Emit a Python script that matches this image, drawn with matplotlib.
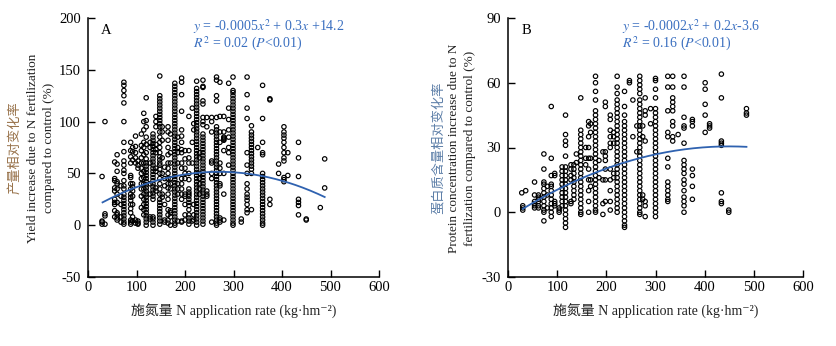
import matplotlib
matplotlib.use("Agg")
import matplotlib.pyplot as plt
import numpy as np

plt.rcParams['font.family'] = ['Liberation Serif', 'Noto Sans CJK SC', 'DejaVu Serif']
plt.rcParams['mathtext.fontset'] = 'stix'
plt.rcParams['axes.unicode_minus'] = False

# ---------------- data: panel A (yield) ----------------
a_x = [29, 35, 55, 60, 68, 74, 88, 92, 98, 103, 110, 115, 120, 128, 134, 140, 148, 153, 158,
       165, 170, 179, 185, 193, 200, 208, 215, 218, 224, 230, 237, 245, 255, 265, 272, 280,
       290, 299, 316, 328, 337, 350, 360, 375, 393, 404, 412, 434, 450, 479, 488]
a_y = [
    [47, 4, 3, 1],
    [100, 11, 9, 1],
    [61, 45, 43, 36, 33, 25, 22, 20, 14, 8],
    [68, 59, 52, 42, 40, 35, 30, 22, 12, 10, 7, 5],
    [38, 28, 20, 8, 3],
    [138, 135, 130, 125, 118, 100, 80, 71, 62, 58, 53, 50, 43, 38, 35, 30, 27, 24, 21, 18, 15, 12, 9, 6, 3, 1],
    [80, 72, 66, 60, 48, 46, 40, 35, 30, 27, 24, 20, 16, 12, 5, 3, 1],
    [75, 71, 63, 40, 37, 33, 28, 20, 8, 4],
    [86, 76, 70, 65, 60, 5, 2],
    [62, 58, 55, 4, 2, 1],
    [88, 77, 72, 65, 60, 55, 50, 45, 40, 35, 28, 17],
    [108, 100, 92, 80, 75, 68, 60, 52, 46, 40, 35, 30, 25, 20, 15, 10],
    [123, 101, 95, 85, 78, 70, 64, 60, 57, 54, 51, 48, 45, 42, 39, 36, 33, 30, 27, 24, 21, 18, 15, 12, 9, 6, 3, 0],
    [80, 75, 60, 40, 30, 8, 6],
    [88, 85, 82, 79, 76, 73, 70, 67, 64, 61, 58, 55, 52, 49, 46, 43, 40, 37, 34, 31, 28, 25, 8, 6, 3, 0],
    [105, 100, 95, 78, 73, 70, 55, 52, 36, 33],
    [144, 125, 122, 119, 116, 113, 110, 107, 104, 101, 98, 95, 90, 85, 80, 75, 70, 66, 63, 60, 58, 54, 50, 45,
     40, 35, 30, 25, 22, 19, 16, 13, 10, 7, 4, 1],
    [95, 90, 82, 65, 50, 30, 27],
    [56, 45, 38, 20, 5, 3],
    [95, 90, 82, 75, 68, 60, 55, 50, 45, 40, 36, 30, 25, 15, 10, 5, 2],
    [88, 70, 60, 45, 40, 35, 14, 12, 8, 0],
    [137, 134, 131, 128, 125, 122, 119, 116, 113, 110, 107, 104, 101, 98, 95, 92, 89, 86, 83, 80, 77, 74, 71,
     68, 65, 62, 59, 56, 53, 50, 47, 44, 41, 38, 35, 32, 29, 26, 23, 20, 17, 14, 11, 8, 5, 2, 0],
    [85, 75, 70, 60, 40, 35, 30, 4],
    [142, 138, 126, 110, 92, 86, 80, 73, 70, 60, 55, 45, 40, 35, 30, 25, 4, 3],
    [72, 64, 55, 50, 45, 30, 28, 20, 10, 5],
    [105, 72, 65, 60, 50, 44, 35, 32, 30, 28, 25, 22, 19, 15, 10, 7, 4, 1],
    [113, 80, 60, 4],
    [98, 92, 20, 10, 5],
    [139, 132, 129, 126, 123, 120, 117, 114, 111, 108, 105, 102, 99, 96, 93, 90, 87, 84, 81, 78, 75, 72, 69,
     66, 63, 60, 57, 54, 51, 48, 45, 42, 39, 36, 33, 30, 27, 24, 21, 18, 15, 12, 9, 6, 3, 0],
    [70, 65, 50, 45, 40, 35, 30],
    [140, 134, 133, 120, 117, 104, 100, 97, 88, 85, 82, 79, 76, 73, 70, 67, 64, 61, 58, 55, 52, 49, 46, 43,
     40, 37, 34, 31, 28, 25, 22, 19, 16, 13, 10, 7, 4, 1],
    [104, 95, 33, 30, 28],
    [104, 100, 90, 62, 60, 50, 45, 3],
    [143, 140, 125, 120, 104, 95, 92, 89, 86, 83, 80, 77, 74, 71, 68, 65, 62, 59, 56, 53, 50, 47, 44, 41, 38,
     35, 32, 29, 26, 23, 20, 17, 14, 11, 8, 5, 2, 0],
    [138, 105, 90, 80, 60, 55, 50, 40, 38, 7, 5, 3],
    [105, 90, 85, 84, 83, 82, 72, 50, 30, 5],
    [137, 113, 102, 92, 85, 75, 70, 58],
    [143, 130, 128, 125, 122, 119, 116, 113, 110, 107, 104, 101, 98, 95, 92, 89, 86, 83, 80, 77, 74, 71, 68,
     65, 62, 59, 56, 53, 50, 47, 44, 41, 38, 35, 32, 29, 26, 23, 20, 17, 14, 11, 8, 5, 2, 0],
    [6, 3],
    [143, 126, 113, 103, 70, 58, 50, 40, 35, 30, 27, 24, 20, 15, 12],
    [96, 90, 87, 84, 81, 78, 75, 72, 69, 66, 63, 60, 57, 54, 50, 15],
    [75],
    [135, 103, 80, 70, 68, 50, 47, 44, 41, 38, 35, 32, 29, 26, 23, 20, 17, 14, 11, 8, 5, 2, 0],
    [122, 121, 25, 20],
    [59, 50],
    [95, 90, 87, 84, 80, 75, 70, 65, 62, 46, 44, 42],
    [70, 48],
    [80, 65, 47, 25, 22, 19, 10],
    [6, 5],
    [17],
    [64, 36],
]
a_fit = [-0.000512, 0.2765, 14.2]   # drawn curve (quadratic)
a_fit_range = [30, 488]

# ---------------- data: panel B (protein) ----------------
b_x = [28, 30, 36, 54, 62, 73, 80, 88, 95, 104, 110, 117, 128, 134, 139, 148, 158, 164, 168, 178, 185,
       193, 198, 208, 215, 222, 237, 247, 254, 262, 268, 274, 279, 290, 300, 325, 335, 346, 358, 375,
       401, 410, 434, 449, 485]
b_y = [
    [9],
    [3, 2, 1],
    [10],
    [14, 8, 5, 4, 3, 2],
    [8, 7, 6, 5, 3, 2],
    [27, 20, 14, 13, 11, 9, 7, 5, 3, 1, 0, -4],
    [12, 8, 2],
    [49, 25, 17, 13, 12, 10, 8, 6, 4, 2, 0, -2],
    [18, 17, 5, 4, 3],
    [2, 1, 0],
    [21, 19, 17, 15, 13, 11, 9, 7, 5, 3],
    [45, 36, 33, 31, 26, 21, 19, 17, 15, 13, 11, 9, 7, 5, 3, 1, -1, -3, -5, -7],
    [22, 20, 17, 15, 5, 4],
    [22, 20, 18, 16, 14, 12, 10, 8, 6],
    [27, 23],
    [53, 38, 36, 34, 32, 30, 28, 26, 24, 22, 20, 18, 16, 14, 12, 10, 8, 6, 4, 2, 0, -1],
    [30, 25, 22],
    [42, 40, 35, 30, 25, 20, 15, 10, 5, 0],
    [41, 37, 25, 15, 12],
    [63, 60, 56, 52, 47, 45, 43, 41, 39, 37, 35, 33, 31, 29, 27, 25, 23, 21, 19, 17, 15, 13, 11, 9, 7, 5, 3, 1, 0],
    [24, 16],
    [-1, 4, 15, 28],
    [51, 49, 28, 26, 24, 20, 15, 5],
    [45, 43, 38, 35, 32, 30, 20, 15, 10, 5, 1],
    [37, 35, 32, 18, 16],
    [63, 58, 55, 52, 50, 48, 46, 44, 42, 40, 38, 36, 34, 32, 30, 28, 26, 24, 22, 20, 18, 16, 14, 12, 10, 8, 6,
     4, 2, 0],
    [56, 49, 45, 42, 40, 38, 36, 34, 32, 30, 28, 26, 24, 22, 20, 18, 16, 14, 12, 10, 8, 6, 4, 2, 0, -2, -4,
     -6, -7],
    [61, 60],
    [52, 35],
    [40, 28],
    [63, 61, 59, 57, 55, 52, 50, 48, 46, 44, 42, 40, 38, 36, 34, 32, 30, 28, 26, 24, 22, 20, 18, 16, 14, 12,
     10, 8, 6, 4, 2, 0, -1],
    [40, 35, 8, 6],
    [53, 47, 45, 33, 5, 3, -2],
    [48, 41],
    [62, 61, 57, 53, 48, 46, 44, 42, 40, 38, 36, 34, 32, 30, 28, 26, 24, 22, 20, 18, 16, 14, 12, 10, 8, 6, 4,
     2, 0, -2],
    [63, 58, 47, 37, 35, 25, 21, 14, 12, 10, 8, 6, 5],
    [63, 58, 53, 51, 49, 47, 42, 40, 35, 33],
    [36],
    [63, 58, 44, 40, 39, 32, 24, 22, 20, 18, 15, 13, 10, 7, 5, 3, 0],
    [43, 42, 40, 20, 17, 12, 6],
    [60, 57, 50, 45, 37],
    [41, 40, 39],
    [64, 53, 33, 32, 31, 9, 5, 4],
    [1, 0],
    [48, 46, 45],
]
b_fit = [-0.000164, 0.1476, -2.7]
b_fit_range = [30, 485]

xticks = [0, 100, 200, 300, 400, 500, 600]
a_yticks = [-50, 0, 50, 100, 150, 200]
b_yticks = [-30, 0, 30, 60, 90]

a_eq = [r'$y$ = -0.0005$x^2$ + 0.3$x$ +14.2', r'$R^2$ = 0.02 ($P$<0.01)']
b_eq = [r'$y$ = -0.0002$x^2$ + 0.2$x$-3.6', r'$R^2$ = 0.16 ($P$<0.01)']
xlabel = '施氮量 N application rate (kg·hm⁻²)'
a_ylab_cn = '产量相对变化率'
a_ylab_en = ['Yield increase due to N fertilization', 'compared to control (%)']
b_ylab_cn = '蛋白质含量相对变化率'
b_ylab_en = ['Protein concentration increase due to N', 'fertilization compared to control (%)']

W, H = 836, 346
fig = plt.figure(figsize=(W / 100, H / 100), dpi=100)

blue = '#2f62b0'
eq_col = '#3a6fc0'


def flat(xs, ys):
    X, Y = [], []
    for x, col in zip(xs, ys):
        X += [x] * len(col)
        Y += col
    return X, Y


def panel(rect, xs, ys, fit, frange, yticks, ylim, letter, eq, cn, en, cn_col, xcn, xen):
    ax = fig.add_axes(rect)
    X, Y = flat(xs, ys)
    ax.scatter(X, Y, s=10, facecolors='none', edgecolors='black', linewidths=0.85, zorder=2)
    xx = np.linspace(frange[0], frange[1], 200)
    ax.plot(xx, np.polyval(fit, xx), color=blue, lw=1.3, zorder=3)
    ax.set_xlim(0, 600)
    ax.set_ylim(*ylim)
    ax.set_xticks(xticks)
    ax.set_yticks(yticks)
    ax.tick_params(direction='in', length=5, width=1, labelsize=10.5, pad=3, colors='black')
    ax.tick_params(axis='y', pad=5)
    for s in ['top', 'right']:
        ax.spines[s].set_visible(False)
    for s in ['left', 'bottom']:
        ax.spines[s].set_linewidth(1.1)
    ax.text(0.045, 0.95, letter, transform=ax.transAxes, fontsize=10.5, va='center', ha='left')
    ax.text(eq[0], 0.967, eq[1][0], transform=ax.transAxes, fontsize=10, color=eq_col, va='center', ha='left')
    ax.text(eq[0], 0.90, eq[1][1], transform=ax.transAxes, fontsize=10, color=eq_col, va='center', ha='left')
    ax.set_xlabel(xlabel, fontsize=10, labelpad=6, color='#222222')
    yc = 1 - 148 / H
    fig.text(xcn / W, yc, cn, rotation=90, fontsize=9.5, color=cn_col, ha='center', va='center',
             family=['Noto Sans CJK SC', 'DejaVu Sans'])
    fig.text(xen[0] / W, yc, en[0], rotation=90, fontsize=9.5, color='#222222', ha='center', va='center')
    fig.text(xen[1] / W, yc, en[1], rotation=90, fontsize=9.5, color='#222222', ha='center', va='center')
    return ax


bottom = 1 - 277 / H
height = (277 - 18) / H
panel([88 / W, bottom, (379 - 88) / W, height], a_x, a_y, a_fit, a_fit_range, a_yticks, (-50, 200), 'A',
      (0.36, a_eq), a_ylab_cn, a_ylab_en, '#98724a', 15, (33, 49))
panel([508 / W, bottom, (803 - 508) / W, height], b_x, b_y, b_fit, b_fit_range, b_yticks, (-30, 90), 'B',
      (0.385, b_eq), b_ylab_cn, b_ylab_en, '#5d7fa8', 438, (454, 470))

fig.savefig('out.png', dpi=100)
